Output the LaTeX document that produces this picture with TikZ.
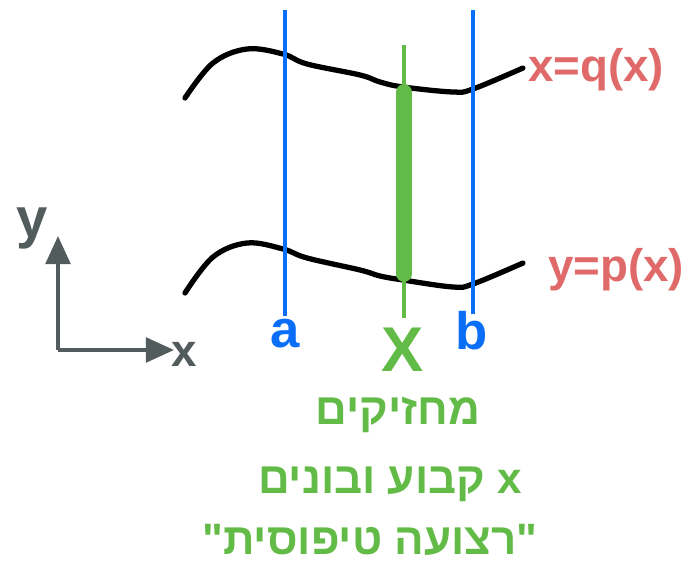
\documentclass[tikz,border=0pt]{standalone}
\usepackage{fontspec}
\setmainfont{Liberation Sans}
\newfontfamily\hebfont[Script=Hebrew]{Liberation Sans}
\TeXXeTstate=1
\usetikzlibrary{arrows.meta,positioning}

\definecolor{curvered}{HTML}{E06A6A}
\definecolor{limblue}{HTML}{0A6EF8}
\definecolor{stripgreen}{HTML}{62BB46}
\definecolor{axisgray}{HTML}{525C5C}

\tikzset{
  boundary/.style={line width=3pt,line cap=round,black},
  limit/.style={line width=2.2pt,limblue},
  curvelabel/.style={curvered,font=\bfseries\fontsize{26}{28}\selectfont},
  hebnote/.style={stripgreen,font=\hebfont\bfseries\fontsize{25}{27}\selectfont}
}

\begin{document}
\begin{tikzpicture}[x=0.02cm,y=-0.02cm,>=Latex]
  \useasboundingbox (0,0) rectangle (691,573);

  % Axes (for orientation)
  \coordinate (O) at (58,350);
  \coordinate (Yend) at (58,236);
  \coordinate (Xend) at (174,350);
  \draw[-{Triangle[length=16pt,width=14pt]},line width=2.2pt,axisgray] (O) -- (Yend);
  \draw[-{Triangle[length=16pt,width=14pt]},line width=2.2pt,axisgray] (O) -- (Xend);
  \node[axisgray,font=\bfseries\fontsize{32}{34}\selectfont] (ylab) at (32,228) {y};
  \node[axisgray,font=\bfseries\fontsize{26}{28}\selectfont] (xlab) at (184,354) {x};

  % Upper and lower boundary curves
  \draw[boundary] plot[smooth,tension=0.6] coordinates {(185,98) (213,63) (247,49) (283,54) (307,64) (360,75) (380,82) (403,87) (453,92) (473,89) (523,68)};
  \draw[boundary] plot[smooth,tension=0.6] coordinates {(185,293) (213,257) (247,243) (283,249) (307,258) (360,270) (380,276) (403,280) (453,287) (473,284) (523,263)};

  % Limits of integration
  \coordinate (atop) at (285,10);
  \coordinate (abot) at (285,316);
  \coordinate (btop) at (473,10);
  \coordinate (bbot) at (473,314);
  \draw[limit] (atop) -- (abot);
  \draw[limit] (btop) -- (bbot);
  \node[limblue,font=\bfseries\fontsize{30}{32}\selectfont] (alab) at (285,334) {a};
  \node[limblue,font=\bfseries\fontsize{30}{32}\selectfont] (blab) at (472,331) {b};

  % The typical strip at x
  \coordinate (xtop) at (404,45);
  \coordinate (xbot) at (404,318);
  \coordinate (stop) at (404,92);
  \coordinate (sbot) at (404,274);
  \draw[line width=2pt,stripgreen] (xtop) -- (xbot);
  \draw[line width=9pt,line cap=round,stripgreen] (stop) -- (sbot);
  \node[stripgreen,font=\bfseries\fontsize{36}{38}\selectfont] (xlabel) at (403,350) {X};

  % Curve labels
  \node[curvelabel] (qlab) at (596,70) {x=q(x)};
  \node[curvelabel] (plab) at (616,270) {y=p(x)};

  % Hebrew note
  \node[hebnote] (line1) at (398,415) {\beginR מחזיקים\endR};
  \node[hebnote] (line2) at (390,484) {\beginR x קבוע ובונים\endR};
  \node[hebnote] (line3) at (370,540) {\beginR "רצועה טיפוסית"\endR};
\end{tikzpicture}
\end{document}
